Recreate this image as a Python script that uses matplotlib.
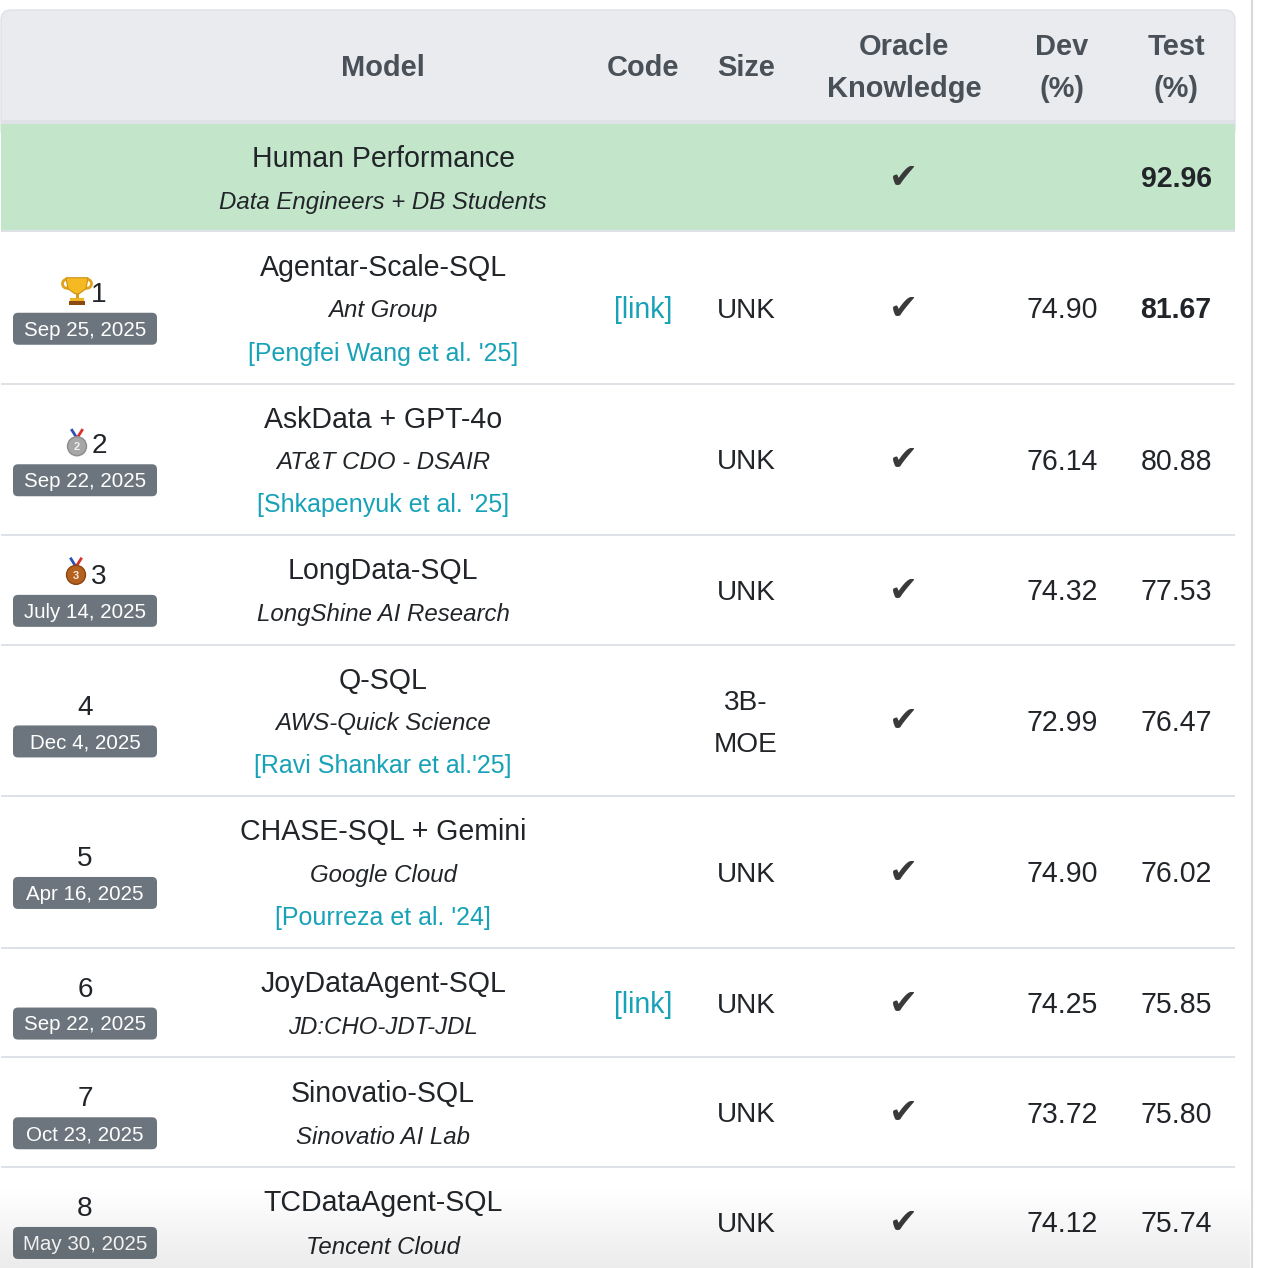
import matplotlib.pyplot as plt
import numpy as np
from matplotlib.patches import FancyBboxPatch, Rectangle, Circle, Polygon

# leaderboard data
ranks = [1, 2, 3, 4, 5, 6, 7, 8]
dates = ['Sep 25, 2025', 'Sep 22, 2025', 'July 14, 2025', 'Dec 4, 2025',
         'Apr 16, 2025', 'Sep 22, 2025', 'Oct 23, 2025', 'May 30, 2025']
models = ['Agentar-Scale-SQL', 'AskData + GPT-4o', 'LongData-SQL', 'Q-SQL',
          'CHASE-SQL + Gemini', 'JoyDataAgent-SQL', 'Sinovatio-SQL', 'TCDataAgent-SQL']
orgs = ['Ant Group', 'AT&T CDO - DSAIR', 'LongShine AI Research', 'AWS-Quick Science',
        'Google Cloud', 'JD:CHO-JDT-JDL', 'Sinovatio AI Lab', 'Tencent Cloud']
papers = ["[Pengfei Wang et al. '25]", "[Shkapenyuk et al. '25]", '', "[Ravi Shankar et al.'25]",
          "[Pourreza et al. '24]", '', '', '']
codes = ['[link]', '', '', '', '', '[link]', '', '']
sizes = ['UNK', 'UNK', 'UNK', '3B-\nMOE', 'UNK', 'UNK', 'UNK', 'UNK']
oracle = [True, True, True, True, True, True, True, True]
dev = [74.90, 76.14, 74.32, 72.99, 74.90, 74.25, 73.72, 74.12]
test = [81.67, 80.88, 77.53, 76.47, 76.02, 75.85, 75.80, 75.74]

human_name = 'Human Performance'
human_org = 'Data Engineers + DB Students'
human_test = 92.96

headers = ['Model', 'Code', 'Size', 'Oracle\nKnowledge', 'Dev\n(%)', 'Test\n(%)']

# column centres (px)
cx = {'rank': 85, 'model': 383, 'code': 643, 'size': 746, 'oracle': 904, 'dev': 1062, 'test': 1176}

TXT = '#212529'
HEAD = '#495057'
LINK = '#17a2b8'
LINE = '#dee2e6'
W = 1235

plt.rcParams['font.family'] = ['Liberation Sans', 'DejaVu Sans']

fig = plt.figure(figsize=(12.66, 12.68), dpi=100)
ax = fig.add_axes([0, 0, 1, 1])
ax.set_xlim(0, 1266)
ax.set_ylim(1268, 0)
ax.axis('off')


def put(x, y, s, px=28, **kw):
    ax.text(x, y + 0.36 * px, s, fontsize=px * 0.72, ha='center', va='baseline', **kw)


def check(x, y):
    ax.text(x, y + 11, '\u2714', fontsize=25, ha='center', va='baseline',
            color='#3a3a3a', family='DejaVu Sans')


# header
ax.add_patch(FancyBboxPatch((1, 10), W - 1, 130, boxstyle='round,pad=0,rounding_size=10',
                            fc='#e9ebef', ec=LINE, lw=1, zorder=1))
for h, key in zip(headers, ['model', 'code', 'size', 'oracle', 'dev', 'test']):
    parts = h.split('\n')
    if len(parts) == 1:
        put(cx[key], 66, parts[0], 29, weight='bold', color=HEAD)
    else:
        put(cx[key], 45, parts[0], 29, weight='bold', color=HEAD)
        put(cx[key], 87, parts[1], 29, weight='bold', color=HEAD)
ax.add_patch(Rectangle((1, 120), W - 1, 4, fc=LINE, ec='none', zorder=2))

# human performance row
ax.add_patch(Rectangle((1, 124), W - 1, 107, fc='#c3e6cb', ec='none', zorder=2))
ax.add_patch(Rectangle((1, 230), W - 1, 2, fc=LINE, ec='none', zorder=2))
put(cx['model'], 157, human_name, 28.5, color=TXT)
put(cx['model'], 200, human_org, 24, color=TXT, style='italic')
check(cx['oracle'], 177)
put(cx['test'], 177, f'{human_test:.2f}', 28.5, color=TXT, weight='bold')


def trophy(x, y):
    ax.add_patch(Circle((x - 10, y - 7), 4.5, fc='none', ec='#e0a21b', lw=2, zorder=3))
    ax.add_patch(Circle((x + 10, y - 7), 4.5, fc='none', ec='#e0a21b', lw=2, zorder=3))
    ax.add_patch(Polygon([(x - 11, y - 13), (x + 11, y - 13), (x + 9, y - 2), (x + 2, y + 3),
                          (x - 2, y + 3), (x - 9, y - 2)], fc='#f5b921', ec='#d08f12', lw=0.8, zorder=4))
    ax.add_patch(Rectangle((x - 1.5, y + 3), 3, 5, fc='#d99a18', ec='none', zorder=4))
    ax.add_patch(Rectangle((x - 7, y + 7), 14, 3, fc='#f0b429', ec='none', zorder=4))
    ax.add_patch(Rectangle((x - 8, y + 10), 16, 4, fc='#8a4a12', ec='none', zorder=4))


def medal(x, y, n, fc, ec):
    ax.plot([x - 5, x], [y - 16, y - 8], color='#2c4fb5', lw=2, zorder=3)
    ax.plot([x + 5, x], [y - 16, y - 8], color='#d8312c', lw=2, zorder=3)
    ax.add_patch(Circle((x, y), 9.5, fc=fc, ec=ec, lw=1, zorder=4))
    ax.text(x, y + 4, str(n), fontsize=8, ha='center', va='baseline', color='white',
            weight='bold', alpha=0.85, zorder=5)


# leaderboard rows
top = 232
for i in range(len(ranks)):
    lines = [models[i], orgs[i]] + ([papers[i]] if papers[i] else [])
    h = 151.5 if len(lines) == 3 else 109.7
    c = top + h / 2

    # rank + date badge
    if ranks[i] == 1:
        trophy(77, c - 17)
        put(99, c - 16, str(ranks[i]), 28, color=TXT)
    elif ranks[i] == 2:
        medal(77, c - 13, 2, '#a7a7a7', '#8c8c8c')
        put(99, c - 16, str(ranks[i]), 28, color=TXT)
    elif ranks[i] == 3:
        medal(76, c - 15, 3, '#b4611f', '#8c4512')
        put(99, c - 16, str(ranks[i]), 28, color=TXT)
    else:
        put(cx['rank'], c - 16, str(ranks[i]), 28, color=TXT)
    ax.add_patch(FancyBboxPatch((13, c + 5), 144, 32, boxstyle='round,pad=0,rounding_size=5',
                                fc='#6c757d', ec='none', zorder=3))
    put(cx['rank'], c + 20.5, dates[i], 20.5, color='white', zorder=4)

    # model cell
    if len(lines) == 3:
        put(cx['model'], c - 42, lines[0], 28.5, color=TXT)
        put(cx['model'], c + 1, lines[1], 24, color=TXT, style='italic')
        put(cx['model'], c + 44, lines[2], 25, color=LINK)
    else:
        put(cx['model'], c - 21, lines[0], 28.5, color=TXT)
        put(cx['model'], c + 23, lines[1], 24, color=TXT, style='italic')

    if codes[i]:
        put(cx['code'], c, codes[i], 28.5, color=LINK)

    sz = sizes[i].split('\n')
    if len(sz) == 1:
        put(cx['size'], c, sz[0], 28, color=TXT)
    else:
        put(cx['size'], c - 21, sz[0], 28, color=TXT)
        put(cx['size'], c + 21, sz[1], 28, color=TXT)

    if oracle[i]:
        check(cx['oracle'], c)
    put(cx['dev'], c, f'{dev[i]:.2f}', 28.5, color=TXT)
    put(cx['test'], c, f'{test[i]:.2f}', 28.5, color=TXT, weight='bold' if i == 0 else 'normal')

    top += h
    ax.add_patch(Rectangle((1, top - 1), W - 1, 2, fc=LINE, ec='none', zorder=2))

# scrollbar edge
ax.plot([1252, 1252], [0, 1268], color='#d8d8d8', lw=1.5)

# fade at the bottom
grad = np.zeros((100, 2, 4))
grad[:, :, 3] = np.linspace(0, 0.08, 100)[:, None]
ax.imshow(grad, extent=[0, 1250, 1268, 1185], aspect='auto', zorder=6)
ax.set_xlim(0, 1266)
ax.set_ylim(1268, 0)

fig.savefig('out.png', dpi=100, facecolor='white')
